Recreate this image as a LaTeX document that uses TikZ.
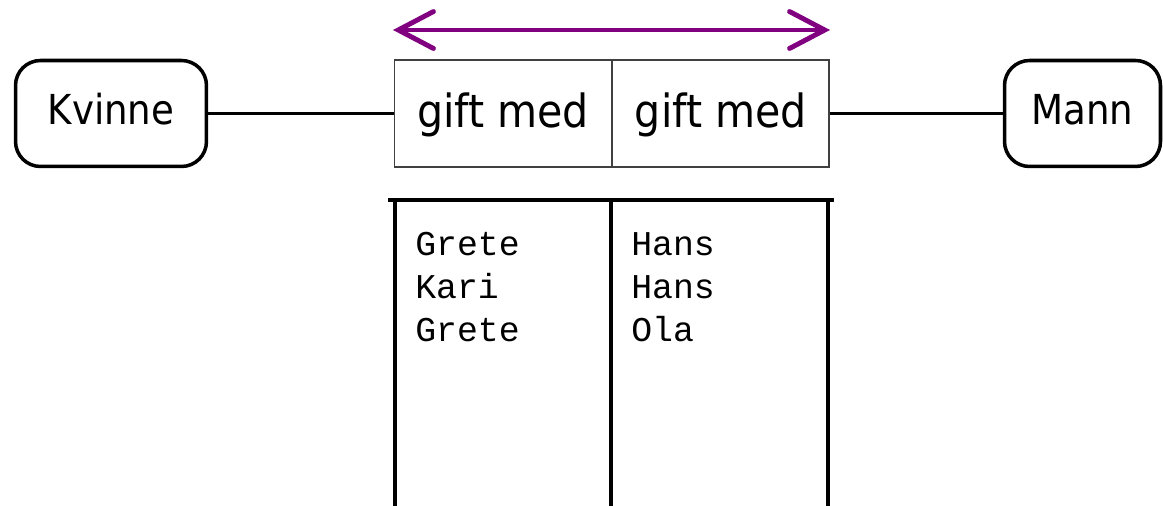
\documentclass[tikz,border=0pt]{standalone}
\usepackage{fontspec}
\newfontfamily\labelfont{DejaVu Sans Condensed}
\newfontfamily\datafont{Liberation Mono}
\usetikzlibrary{arrows.meta}
\definecolor{relpurple}{RGB}{128,0,128}

\begin{document}
\begin{tikzpicture}[x=0.02cm,y=-0.02cm,
    entity/.style={draw,line width=2pt,rounded corners=0.5cm,minimum height=2.12cm,
      font=\labelfont\fontsize{23.5}{28}\selectfont,text height=19pt,text depth=6pt},
    role/.style={draw=black!75,line width=0.8pt,minimum width=4.33cm,minimum height=2.14cm,
      inner sep=0pt,font=\labelfont\fontsize{26}{31}\selectfont,text height=19pt,text depth=2.6pt},
    link/.style={line width=2pt},
    col/.style={line width=2.6pt},
    val/.style={font=\datafont\fontsize{19.8}{24}\selectfont,anchor=base west,inner sep=0pt}]
        \useasboundingbox (0,0) rectangle (1163,506);

        % entities and the relation box
        \node[entity,minimum width=3.82cm] (kvinne) at (111,113.5) {Kvinne};
        \node[entity,minimum width=3.12cm] (mann) at (1082.5,113.5) {Mann};
        \node[role] (giftA) at (503,113.5) {gift med};
        \node[role,anchor=west] (giftB) at (giftA.east) {gift med};

        \draw[link] (kvinne) -- (giftA);
        \draw[link] (giftB) -- (mann);

        % direction of reading
        \coordinate (readL) at (393,30);
        \coordinate (readR) at (830,30);
        \draw[relpurple,line width=2.8pt,{Straight Barb[length=20pt,width=21pt,line cap=round]}-{Straight Barb[length=20pt,width=21pt,line cap=round]}] (readL) -- (readR);

        % the table below
        \draw[col] (388,200) -- (834,200);
        \foreach \x in {395,611,828} {
          \draw[col] (\x,200) -- (\x,506);
        }
        \foreach \name [count=\i] in {Grete,Kari,Grete} {
          \node[val] (kv\i) at (415,{213+43*\i}) {\name};
        }
        \foreach \name [count=\i] in {Hans,Hans,Ola} {
          \node[val] (ma\i) at (631,{213+43*\i}) {\name};
        }
      \end{tikzpicture}
\end{document}
